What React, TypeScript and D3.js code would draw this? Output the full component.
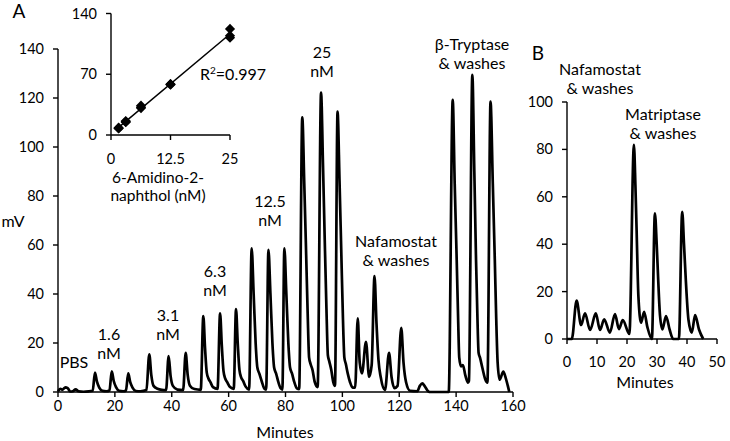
import React from "react";
import * as d3 from "d3";

// ---------- Data ----------
// Panel A chromatogram: [minutes, mV]
const traceA: [number, number][] = [
  [0, 0.3], [0.8, 1.3], [1.6, 1.0], [2.6, 1.9], [3.4, 1.6], [4.3, 0.2], [5.2, 0.3], [6.2, 1.1], [7.2, 0.3], [9, 0.1], [11, 0.3], [12.2, 0.5],
  [13.0, 7.9], [13.7, 4.2], [14.5, 1.8], [15.6, 0.5], [17.0, 0.3], [18.1, 0.6],
  [18.9, 8.4], [19.6, 4.5], [20.4, 2.0], [21.5, 0.5], [23.0, 0.3], [23.9, 0.6],
  [24.7, 7.6], [25.4, 4.0], [26.2, 1.8], [27.4, 0.4], [29.0, 0.3], [31.1, 0.8],
  [32.1, 15.4], [32.8, 7.0], [33.6, 2.5], [35.0, 1.3], [36.5, 0.9], [38.0, 0.8],
  [38.9, 14.7], [39.6, 6.5], [40.4, 2.5], [42.0, 1.0], [44.0, 0.8],
  [44.9, 16.0], [45.6, 7.0], [46.4, 2.6], [48.0, 1.2], [50.2, 0.9],
  [51.1, 31.0], [51.7, 18], [52.3, 8], [52.9, 5.5], [53.6, 4], [54.5, 2], [56.1, 1.3],
  [57.0, 32.1], [57.6, 19], [58.2, 8.5], [58.8, 5.5], [59.5, 4], [60.5, 2], [61.8, 1.3],
  [62.6, 33.8], [63.2, 20], [63.8, 9], [64.4, 6], [65.1, 4.5], [66.0, 2.2], [67.2, 1.0],
  [68.1, 58.6], [68.8, 40], [69.5, 20], [70.1, 10], [70.8, 7.5], [71.6, 4.5], [72.5, 1.5], [73.2, 1.0],
  [74.0, 58.0], [74.7, 40], [75.4, 20], [76.0, 10], [76.7, 7.5], [77.5, 4.0], [78.3, 1.5], [78.9, 1.0],
  [79.6, 58.6], [80.3, 40], [81.0, 20], [81.6, 10], [82.3, 7.5], [83.1, 4.0], [84.0, 1.5], [84.8, 1.2],
  [85.9, 112.1], [86.6, 85], [87.2, 59], [87.8, 32], [88.3, 14], [88.8, 11.5], [89.5, 9], [90.3, 4], [91.3, 2.0],
  [92.5, 122.2], [93.2, 92], [93.8, 62], [94.4, 34], [94.9, 15], [95.4, 12.5], [96.1, 9], [96.8, 4], [97.4, 2.5],
  [98.3, 114.4], [99.0, 86], [99.6, 58], [100.2, 30], [100.7, 14], [101.2, 11.5], [101.9, 7.5], [102.7, 4], [103.6, 1.8], [104.5, 1.8],
  [105.4, 30.1], [106.1, 12], [106.9, 7.6], [108.3, 20.5], [109.4, 6.2], [110.3, 11],
  [111.3, 47.3], [112.0, 28], [112.7, 13], [113.5, 6], [115.0, 0.8],
  [116.4, 16.0], [117.3, 6], [118.3, 1.6], [119.4, 2.5],
  [120.7, 26.2], [121.5, 12], [122.4, 4], [123.8, 0.5], [126.3, 0.3], [127.3, 2.6], [128.1, 3.5], [129.0, 2.3], [130.2, 0.3], [131, 0], [137.4, 0],
  [138.8, 119.2], [139.5, 85], [140.2, 54], [140.7, 30], [141.1, 14], [141.7, 10.5], [142.4, 11], [143.2, 7], [144.2, 3.8], [144.5, 4.5],
  [145.7, 129.4], [146.4, 90], [147.0, 54], [147.5, 30], [147.9, 16], [148.4, 14], [149.2, 10], [150.3, 5], [151.0, 3.8],
  [152.1, 118.5], [152.9, 85], [153.6, 54], [154.1, 30], [154.6, 12], [155.3, 5], [156.6, 8.3], [157.5, 5.5], [158.7, 0],
];
const xTicksA = [0, 20, 40, 60, 80, 100, 120, 140, 160];
const yTicksA = [0, 20, 40, 60, 80, 100, 120, 140];

// Inset standard curve: 6-amidino-2-naphthol (nM) vs peak (mV)
const stdConc = [1.6, 1.6, 1.6, 3.1, 3.1, 3.1, 6.3, 6.3, 6.3, 12.5, 12.5, 12.5, 25, 25, 25];
const stdPeak = [7.9, 8.4, 7.6, 15.4, 14.7, 16.0, 31.0, 32.1, 33.8, 58.6, 58.0, 58.6, 112.1, 122.2, 114.4];
const xTicksInset = [0, 12.5, 25];
const yTicksInset = [0, 70, 140];

// Panel B chromatogram
const traceB: [number, number][] = [
  [0, 0], [1.6, 0], [3.2, 16.2], [4.7, 5.9], [6.0, 10.8], [7.7, 3.8], [9.6, 10.8], [11.0, 3.8], [12.4, 8.3], [14.3, 2.7],
  [16.0, 10.5], [17.3, 4.2], [18.6, 8.0], [20.8, 2.1],
  [22.3, 81.9], [22.8, 65], [23.2, 46], [23.8, 18], [24.7, 6.9], [25.7, 11.5], [26.8, 5], [28.3, 0],
  [29.3, 53.0], [29.9, 40], [30.4, 25], [31.0, 10], [31.8, 4.1], [33.0, 9.7], [34.2, 4], [35.4, 0], [37.3, 0],
  [38.4, 53.7], [39.0, 40], [39.6, 25], [40.5, 8], [41.6, 2.7], [42.7, 10.1], [44.0, 4], [45.4, 0],
];
const xTicksB = [0, 10, 20, 30, 40, 50];
const yTicksB = [0, 20, 40, 60, 80, 100];

const FONT = "Lato, 'Open Sans', sans-serif";
const TICK = 14.5;
const LAB = 16;

function LeftAxis({ scale, ticks, x, fontSize = TICK }: any) {
  const r = scale.range();
  return (
    <g>
      <line x1={x} x2={x} y1={r[0]} y2={r[1]} stroke="#000" strokeWidth={1.4} />
      {ticks.map((t: number) => (
        <g key={t}>
          <line x1={x - 5} x2={x} y1={scale(t)} y2={scale(t)} stroke="#000" strokeWidth={1.4} />
          <text x={x - 14} y={scale(t) + 5} textAnchor="end" fontSize={fontSize} fontFamily={FONT}>{t}</text>
        </g>
      ))}
    </g>
  );
}

function BottomAxis({ scale, ticks, y, fontSize = TICK, labelDy = 19 }: any) {
  const r = scale.range();
  return (
    <g>
      <line x1={r[0]} x2={r[1]} y1={y} y2={y} stroke="#000" strokeWidth={1.4} />
      {ticks.map((t: number) => (
        <g key={t}>
          <line x1={scale(t)} x2={scale(t)} y1={y} y2={y + 5} stroke="#000" strokeWidth={1.4} />
          <text x={scale(t)} y={y + labelDy} textAnchor="middle" fontSize={fontSize} fontFamily={FONT}>{t}</text>
        </g>
      ))}
    </g>
  );
}

function Label({ x, y, lines, size = LAB, anchor = "middle", gap = 19 }: any) {
  return (
    <g>
      {lines.map((l: string, i: number) => (
        <text key={i} x={x} y={y + i * gap} textAnchor={anchor} fontSize={size} fontFamily={FONT}>{l}</text>
      ))}
    </g>
  );
}

export default function App() {
  // Panel A scales
  const xA = d3.scaleLinear().domain([0, 160]).range([58, 513]);
  const yA = d3.scaleLinear().domain([0, 140]).range([392, 49]);
  const lineA = d3.line<[number, number]>().x((d) => xA(d[0])).y((d) => yA(d[1])).curve(d3.curveMonotoneX);

  // Inset scales
  const xI = d3.scaleLinear().domain([0, 25]).range([111, 230]);
  const yI = d3.scaleLinear().domain([0, 140]).range([135, 13.5]);
  const pts = stdConc.map((c, i) => [c, stdPeak[i]] as [number, number]);
  const mx = d3.mean(stdConc)!;
  const my = d3.mean(stdPeak)!;
  const slope = d3.sum(pts, (p) => (p[0] - mx) * (p[1] - my)) / d3.sum(stdConc, (c) => (c - mx) ** 2);
  const icpt = my - slope * mx;
  const xMin = d3.min(stdConc)!;
  const xMax = d3.max(stdConc)!;
  const diamond = d3.symbol().type(d3.symbolSquare).size(52)()!;

  // Panel B scales
  const xB = d3.scaleLinear().domain([0, 50]).range([567, 717]);
  const yB = d3.scaleLinear().domain([0, 100]).range([339, 102]);
  const lineB = d3.line<[number, number]>().x((d) => xB(d[0])).y((d) => yB(d[1])).curve(d3.curveMonotoneX);

  return (
    <svg width={730} height={441} style={{ position: "absolute", left: 0, top: 0, background: "#fff" }}>
      <rect width={730} height={441} fill="#fff" />
      {/* Panel A */}
      <LeftAxis scale={yA} ticks={yTicksA} x={58} />
      <BottomAxis scale={xA} ticks={xTicksA} y={392} />
      <path d={lineA(traceA)!} fill="none" stroke="#000" strokeWidth={2.7} strokeLinejoin="round" />
      <text x={13} y={227} textAnchor="middle" fontSize={LAB} fontFamily={FONT}>mV</text>
      <text x={285} y={438} textAnchor="middle" fontSize={LAB} fontFamily={FONT}>Minutes</text>
      <text x={19} y={18} textAnchor="middle" fontSize={19} fontFamily={FONT}>A</text>

      <Label x={74} y={368} lines={["PBS"]} />
      <Label x={109} y={340} lines={["1.6", "nM"]} />
      <Label x={168} y={321} lines={["3.1", "nM"]} />
      <Label x={215} y={277} lines={["6.3", "nM"]} />
      <Label x={270} y={207} lines={["12.5", "nM"]} />
      <Label x={322} y={58} lines={["25", "nM"]} />
      <Label x={396} y={247} lines={["Nafamostat", "& washes"]} />
      <Label x={472} y={50} lines={["β-Tryptase", "& washes"]} />

      {/* Inset */}
      <LeftAxis scale={yI} ticks={yTicksInset} x={111} />
      <BottomAxis scale={xI} ticks={xTicksInset} y={135} labelDy={29} />
      <line x1={xI(xMin)} y1={yI(icpt + slope * xMin)} x2={xI(xMax)} y2={yI(icpt + slope * xMax)} stroke="#000" strokeWidth={1.5} />
      {pts.map((p, i) => (
        <path key={i} d={diamond} transform={`translate(${xI(p[0])},${yI(p[1])}) rotate(45)`} fill="#000" />
      ))}
      <text x={200} y={80} fontSize={LAB} fontFamily={FONT}>
        R<tspan dy={-6} fontSize={10}>2</tspan><tspan dy={6}>=0.997</tspan>
      </text>
      <Label x={158} y={183} lines={["6-Amidino-2-", "naphthol (nM)"]} size={15.5} gap={18} />

      {/* Panel B */}
      <LeftAxis scale={yB} ticks={yTicksB} x={567} />
      <BottomAxis scale={xB} ticks={xTicksB} y={339} labelDy={28} />
      <path d={lineB(traceB)!} fill="none" stroke="#000" strokeWidth={2.7} strokeLinejoin="round" />
      <text x={645} y={388} textAnchor="middle" fontSize={LAB} fontFamily={FONT}>Minutes</text>
      <text x={538} y={60} textAnchor="middle" fontSize={19} fontFamily={FONT}>B</text>
      <Label x={600} y={75} lines={["Nafamostat", "& washes"]} />
      <Label x={663} y={120} lines={["Matriptase", "& washes"]} />
    </svg>
  );
}
